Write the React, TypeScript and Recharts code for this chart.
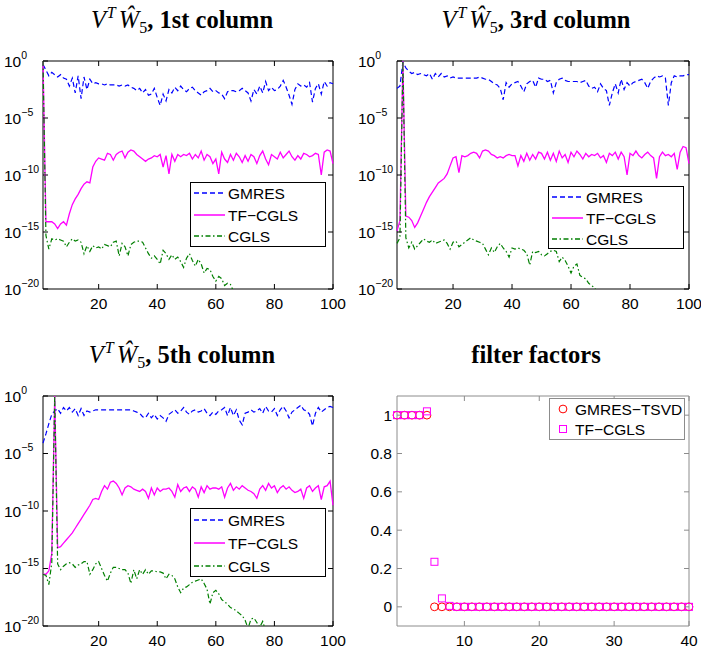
import {
  Legend,
  Line,
  LineChart,
  ReferenceArea,
  Scatter,
  ScatterChart,
  XAxis,
  YAxis,
} from "recharts";

// iteration index on the x axis
const iterations = Array.from({ length: 100 }, (_, i) => i + 1);
const filterIndex = Array.from({ length: 40 }, (_, i) => i + 1);

const logTicks = [1e-20, 1e-15, 1e-10, 1e-5, 1];
const iterTicks = [20, 40, 60, 80, 100];
const filterXTicks = [10, 20, 30, 40];
const filterYTicks = [0, 0.2, 0.4, 0.6, 0.8, 1];

// values, stored as log10 of the magnitude
const gmres1Log10 = [
  -0.3, -0.8, -1.3, -1.0, -1.2, -1.4, -1.2, -1.5, -1.6, -2.2,
  -1.5, -2.8, -1.3, -3.3, -1.4, -2.5, -1.6, -2.0, -1.9, -2.0,
  -2.0, -2.1, -2.0, -2.1, -2.1, -2.1, -2.2, -2.1, -2.2, -2.1,
  -2.3, -2.4, -2.6, -2.4, -2.8, -2.5, -3.0, -2.9, -2.4, -3.2,
  -3.9, -2.9, -3.5, -2.5, -2.8, -2.3, -2.6, -2.2, -2.5, -2.7,
  -2.4, -2.3, -2.6, -2.8, -3.0, -2.7, -2.6, -2.4, -2.7, -2.6,
  -2.8, -2.9, -3.3, -2.7, -2.6, -2.6, -2.7, -2.6, -2.4, -2.6,
  -2.8, -3.5, -2.5, -2.9, -2.2, -2.8, -1.8, -2.6, -2.3, -2.6,
  -2.5, -2.2, -1.7, -2.3, -3.0, -3.8, -2.5, -2.0, -2.2, -2.1,
  -2.3, -1.9, -3.6, -2.4, -2.0, -2.9, -1.8, -2.2, -1.9, -2.0,
];
const tfcgls1Log10 = [
  0, -14.1, -14.1, -14.1, -14.3, -14.7, -14.3, -14.1, -14.4, -13.4,
  -12.6, -12.1, -11.7, -11.2, -10.8, -10.6, -10.7, -9.3, -8.8, -8.5,
  -8.6, -8.7, -8.1, -8.2, -8.7, -8.2, -8.0, -7.9, -8.5, -8.0,
  -7.8, -7.9, -8.2, -8.4, -8.6, -8.8, -8.6, -8.5, -8.3, -8.4,
  -8.2, -9.3, -8.3, -9.9, -8.2, -8.8, -8.2, -8.4, -8.2, -8.3,
  -8.1, -8.6, -8.2, -8.5, -7.9, -8.7, -8.2, -8.4, -9.0, -8.6,
  -9.9, -8.0, -8.6, -8.9, -8.2, -8.7, -8.1, -8.4, -8.9, -8.3,
  -8.8, -8.2, -8.4, -9.0, -8.3, -7.9, -8.6, -9.1, -8.2, -8.4,
  -8.6, -8.0, -8.5, -8.2, -7.9, -8.4, -8.7, -8.3, -8.6, -8.1,
  -8.2, -8.4, -8.3, -8.1, -8.2, -10.0, -8.0, -7.8, -7.9, -9.0,
];
const cgls1Log10 = [
  0, -15.3, -16.5, -15.6, -15.7, -15.6, -15.7, -15.8, -16.3, -15.9,
  -15.6, -15.8, -15.7, -15.9, -16.9, -16.2, -16.7, -16.2, -16.4, -16.3,
  -16.5, -16.1, -16.2, -16.3, -15.9, -15.8, -17.1, -16.0, -16.3, -17.1,
  -16.1, -15.9, -15.8, -15.8, -15.9, -16.4, -16.9, -17.3, -17.1, -17.4,
  -17.8, -16.6, -16.9, -17.4, -17.0, -17.4, -17.2, -17.6, -18.1, -17.3,
  -16.9, -17.5, -18.0, -17.4, -17.8, -18.6, -18.2, -18.3, -18.9, -19.3,
  -18.9, -19.1, -19.7, -19.5, -19.6, -20.2, -20.5, -20.9, -21.5,
];

const gmres3Log10 = [
  -2.4, -2.2, -0.1, -0.6, -0.9, -1.1, -1.0, -1.2, -1.1, -1.2,
  -1.3, -1.1, -1.6, -1.1, -1.4, -1.1, -1.4, -1.3, -1.5, -1.4,
  -1.5, -1.5, -1.5, -1.5, -1.5, -1.5, -1.5, -1.5, -1.4, -1.5,
  -1.6, -1.6, -1.8, -2.0, -2.1, -2.4, -3.4, -1.9, -2.3, -2.0,
  -1.9, -1.8, -2.2, -2.7, -2.0, -1.8, -1.7, -2.3, -1.5, -1.6,
  -1.6, -1.8, -1.7, -2.8, -1.9, -1.6, -1.5, -1.7, -1.8, -1.8,
  -1.8, -1.8, -1.9, -1.8, -1.7, -2.2, -2.4, -2.3, -2.7, -2.0,
  -2.4, -2.6, -3.9, -2.8, -2.0, -2.8, -1.6, -2.5, -1.9, -2.2,
  -1.9, -1.8, -1.7, -1.6, -1.9, -2.4, -1.8, -1.5, -1.3, -1.4,
  -1.3, -1.5, -3.9, -1.9, -1.3, -1.4, -1.3, -1.3, -1.2, -1.2,
];
const tfcgls3Log10 = [
  -14.9, -14.0, 0, -13.6, -13.7, -14.0, -14.6, -14.2, -13.6, -13.0,
  -12.4, -11.9, -11.5, -11.1, -10.7, -10.5, -10.3, -9.9, -9.2, -8.5,
  -8.4, -9.8, -8.3, -8.4, -8.3, -8.1, -8.0, -8.1, -8.5, -7.9,
  -7.8, -7.9, -8.2, -8.3, -8.5, -8.4, -8.5, -8.3, -8.2, -8.3,
  -8.3, -9.2, -8.3, -8.8, -8.1, -8.7, -8.2, -8.6, -8.0, -8.1,
  -8.6, -8.0, -8.7, -8.1, -8.8, -7.9, -8.5, -8.2, -8.9, -8.0,
  -8.4, -7.9, -8.2, -8.6, -8.1, -8.4, -8.2, -8.3, -8.1, -8.5,
  -8.3, -8.9, -8.1, -8.3, -8.0, -8.6, -8.0, -8.4, -10.0, -8.1,
  -8.3, -7.9, -8.3, -8.5, -8.2, -8.0, -8.3, -8.5, -10.3, -8.4,
  -8.0, -8.3, -8.2, -8.4, -8.1, -9.5, -8.0, -7.5, -7.6, -9.0,
];
const cgls3Log10 = [
  -16.0, -15.5, 0, -15.5, -16.4, -15.9, -16.5, -16.2, -15.9, -15.6,
  -15.8, -15.9, -15.7, -16.0, -15.9, -15.8, -15.7, -16.0, -16.5, -15.9,
  -15.8, -16.3, -16.1, -15.9, -15.7, -15.5, -15.7, -15.8, -15.9, -16.0,
  -16.5, -17.0, -16.4, -16.8, -16.3, -16.0, -16.4, -16.7, -17.2, -16.4,
  -16.5, -16.4, -16.5, -16.6, -16.9, -17.9, -16.7, -16.8, -16.7, -17.0,
  -17.1, -16.9, -16.7, -16.6, -16.7, -17.6, -17.2, -17.5, -18.0, -18.6,
  -18.0, -17.8, -18.8, -19.0, -19.1, -19.5, -19.7, -19.9, -20.3, -21.0,
];

const gmres5Log10 = [
  -4.1, -3.3, -2.4, -1.6, -1.3, -1.1, -1.5, -1.0, -1.3, -1.0,
  -1.4, -1.1, -1.7, -1.1, -1.7, -1.3, -1.4, -1.3, -1.2, -1.2,
  -1.2, -1.2, -1.2, -1.2, -1.2, -1.2, -1.2, -1.2, -1.2, -1.2,
  -1.2, -1.3, -1.4, -1.5, -1.8, -1.9, -1.5, -1.9, -1.6, -2.0,
  -1.7, -1.9, -2.2, -1.6, -1.4, -1.2, -1.5, -1.3, -1.0, -1.4,
  -1.6, -1.3, -1.2, -1.4, -1.3, -1.1, -1.5, -1.7, -1.4, -1.6,
  -1.3, -1.2, -1.0, -1.7, -1.0, -1.7, -1.2, -2.1, -2.5, -1.5,
  -1.4, -1.2, -1.4, -1.3, -1.1, -1.5, -0.9, -1.3, -1.4, -1.1,
  -1.7, -1.2, -0.9, -1.3, -1.9, -1.4, -1.2, -1.0, -0.8, -1.2,
  -1.3, -1.6, -2.6, -1.5, -1.0, -1.4, -1.2, -1.0, -0.9, -1.0,
];
const tfcgls5Log10 = [
  -15.5, -15.5, -15.2, -13.7, 0, -13.2, -13.1, -12.8, -12.5, -12.2,
  -11.9, -11.5, -11.1, -10.7, -10.3, -9.9, -9.5, -9.0, -8.9, -9.0,
  -8.3, -7.8, -8.1, -7.5, -7.4, -7.6, -8.0, -8.6, -8.0, -7.8,
  -7.9, -8.1, -8.2, -8.3, -8.1, -8.3, -8.9, -8.0, -8.6, -8.0,
  -8.3, -8.1, -8.1, -8.0, -8.3, -8.8, -7.7, -8.3, -8.0, -7.9,
  -8.3, -7.9, -8.1, -8.8, -7.9, -8.4, -7.8, -8.1, -8.0, -8.0,
  -8.1, -7.9, -8.8, -8.0, -7.6, -8.2, -7.9, -8.1, -7.8, -8.0,
  -8.2, -8.3, -8.5, -8.9, -8.1, -7.8, -8.2, -7.6, -8.0, -7.8,
  -8.4, -8.0, -7.8, -8.1, -7.9, -8.2, -8.4, -8.3, -8.1, -8.9,
  -8.0, -7.8, -8.3, -8.0, -7.8, -9.0, -7.9, -7.8, -7.4, -9.5,
];
const cgls5Log10 = [
  -15.5, -15.6, -16.4, -14.5, 0, -14.6, -15.1, -14.8, -14.6, -14.5,
  -14.6, -14.9, -14.7, -14.6, -14.4, -14.4, -15.5, -15.1, -14.6, -14.4,
  -15.0, -15.6, -16.1, -15.4, -14.9, -14.9, -15.0, -15.1, -15.1, -15.4,
  -16.3, -15.1, -15.9, -15.1, -15.5, -15.1, -15.5, -15.2, -15.2, -15.3,
  -15.3, -15.4, -15.9, -15.5, -15.6, -15.9, -16.6, -17.1, -16.7, -16.6,
  -16.4, -16.2, -16.1, -16.0, -15.9, -16.3, -16.8, -18.1, -17.1, -16.9,
  -17.2, -17.7, -17.9, -18.1, -18.4, -18.5, -18.7, -18.9, -19.1, -19.5,
  -20.2, -19.4, -19.3, -19.7, -20.1, -19.6, -20.4, -21.0,
];

// filter factors, indices 1..40
const tsvdFactors = [
  1, 1, 1, 1, 1, 0, 0, 0, 0, 0,
  0, 0, 0, 0, 0, 0, 0, 0, 0, 0,
  0, 0, 0, 0, 0, 0, 0, 0, 0, 0,
  0, 0, 0, 0, 0, 0, 0, 0, 0, 0,
];
const tfcglsFactors = [
  1, 1, 1, 1, 1.02, 0.235, 0.044, 0.005, 0, 0,
  0, 0, 0, 0, 0, 0, 0, 0, 0, 0,
  0, 0, 0, 0, 0, 0, 0, 0, 0, 0,
  0, 0, 0, 0, 0, 0, 0, 0, 0, 0,
];

const SANS = "'Liberation Sans', Arial, Helvetica, sans-serif";
const SERIF = "'Liberation Serif', 'Times New Roman', serif";
const TICK_FONT = 15.5;
const TITLE_FONT = 24.5;

const lineSeries = [
  { key: "gmres", name: "GMRES", color: "#0000ff", dash: "5 3", width: 1.2 },
  { key: "tf", name: "TF\u2212CGLS", color: "#ff00ff", dash: undefined, width: 1.3 },
  { key: "cgls", name: "CGLS", color: "#007f00", dash: "5 2.5 1.5 2.5", width: 1.2 },
];

type Frame = { left: number; right: number; top: number; bottom: number };
type Box = { x: number; y: number; w: number; h: number };

function toRows(gmres: number[], tf: number[], cgls: number[]) {
  return iterations.map((k, i) => ({
    k,
    gmres: 10 ** gmres[i],
    tf: 10 ** tf[i],
    cgls: cgls[i] === undefined ? null : 10 ** cgls[i],
  }));
}

function LineKey({ box }: { box: Box }) {
  return (
    <svg width={box.w} height={box.h} style={{ display: "block" }}>
      <rect x={0.5} y={0.5} width={box.w - 1} height={box.h - 1} fill="#fff" stroke="#000" />
      {lineSeries.map((s, i) => {
        const y = Math.round((box.h * (2 * i + 1)) / 6);
        return (
          <g key={s.key}>
            <line
              x1={4}
              x2={35}
              y1={y}
              y2={y}
              stroke={s.color}
              strokeWidth={1.5}
              strokeDasharray={s.dash}
            />
            <text x={38} y={y + 5.5} fontFamily={SANS} fontSize={TICK_FONT} fill="#000">
              {s.name}
            </text>
          </g>
        );
      })}
    </svg>
  );
}

function MathTitle({ cx, ord }: { cx: number; ord: string }) {
  return (
    <text x={cx} y={28} textAnchor="middle" fontFamily={SERIF} fontSize={TITLE_FONT} fill="#000">
      <tspan fontStyle="italic">V</tspan>
      <tspan fontStyle="italic" fontSize={16} dy={-10} dx={1}>T</tspan>
      <tspan fontStyle="italic" dy={10} dx={3}>{"\u0174"}</tspan>
      <tspan fontSize={16} dy={5}>5</tspan>
      <tspan fontWeight="bold" dy={-5}>{`, ${ord} column`}</tspan>
    </text>
  );
}

type LogPanelProps = {
  left: number;
  top: number;
  width: number;
  height: number;
  frame: Frame;
  legend: Box;
  titleX: number;
  ord: string;
  rows: ReturnType<typeof toRows>;
};

function LogPanel({ left, top, width, height, frame, legend, titleX, ord, rows }: LogPanelProps) {
  const yTick = (props: any) => {
    const { y, payload } = props;
    const exp = Math.round(Math.log10(payload.value));
    return (
      <g>
        <line x1={frame.left} x2={frame.left + 5} y1={y} y2={y} stroke="#000" />
        <line x1={frame.right - 5} x2={frame.right} y1={y} y2={y} stroke="#000" />
        <text x={frame.left - 39} y={y + 5.5} fontFamily={SANS} fontSize={TICK_FONT} fill="#000">
          10
          <tspan dy={-8} fontSize={10.5}>{exp === 0 ? "0" : `\u2212${Math.abs(exp)}`}</tspan>
        </text>
      </g>
    );
  };
  const xTick = (props: any) => {
    const { x, payload } = props;
    return (
      <g>
        <line x1={x} x2={x} y1={frame.bottom} y2={frame.bottom - 5} stroke="#000" />
        <line x1={x} x2={x} y1={frame.top} y2={frame.top + 5} stroke="#000" />
        <text x={x} y={frame.bottom + 19.5} textAnchor="middle" fontFamily={SANS} fontSize={TICK_FONT} fill="#000">
          {payload.value}
        </text>
      </g>
    );
  };

  return (
    <div style={{ position: "absolute", left, top, width, height }}>
      <LineChart
        width={width}
        height={height}
        data={rows}
        margin={{ top: frame.top, right: width - frame.right, bottom: 0, left: 0 }}
      >
        <XAxis
          dataKey="k"
          type="number"
          domain={[1, 100]}
          ticks={iterTicks}
          height={height - frame.bottom}
          axisLine={false}
          tickLine={false}
          tick={xTick}
          interval={0}
        />
        <YAxis
          type="number"
          scale="log"
          domain={[1e-20, 1]}
          allowDataOverflow
          ticks={logTicks}
          width={frame.left}
          axisLine={false}
          tickLine={false}
          tick={yTick}
          interval={0}
        />
        {lineSeries.map((s) => (
          <Line
            key={s.key}
            dataKey={s.key}
            name={s.name}
            type="linear"
            stroke={s.color}
            strokeWidth={s.width}
            strokeDasharray={s.dash}
            dot={false}
            activeDot={false}
            isAnimationActive={false}
          />
        ))}
        <ReferenceArea x1={1} x2={100} y1={1e-20} y2={1} fill="none" stroke="#000" strokeWidth={1} />
        <Legend
          layout="vertical"
          align="center"
          verticalAlign="middle"
          wrapperStyle={{ left: legend.x, top: legend.y, width: legend.w, height: legend.h }}
          content={() => <LineKey box={legend} />}
        />
      </LineChart>
      <svg
        width={width}
        height={40}
        style={{ position: "absolute", left: 0, top: 0, pointerEvents: "none" }}
      >
        <MathTitle cx={titleX} ord={ord} />
      </svg>
    </div>
  );
}

function FilterPanel() {
  const width = 351;
  const height = 316;
  const frame: Frame = { left: 47, right: 339, top: 61, bottom: 291 };
  const legend: Box = { x: 199, y: 63, w: 136, h: 42 };
  const boxColor = "#8c8c8c";
  const tsvdRows = filterIndex.map((k, i) => ({ k, f: tsvdFactors[i] }));
  const tfRows = filterIndex.map((k, i) => ({ k, f: tfcglsFactors[i] }));

  const yTick = (props: any) => {
    const { y, payload } = props;
    return (
      <g>
        <line x1={frame.left} x2={frame.left + 5} y1={y} y2={y} stroke={boxColor} />
        <line x1={frame.right - 5} x2={frame.right} y1={y} y2={y} stroke={boxColor} />
        <text x={frame.left - 5} y={y + 5.5} textAnchor="end" fontFamily={SANS} fontSize={TICK_FONT} fill="#000">
          {payload.value}
        </text>
      </g>
    );
  };
  const xTick = (props: any) => {
    const { x, payload } = props;
    return (
      <g>
        <line x1={x} x2={x} y1={frame.bottom} y2={frame.bottom - 5} stroke={boxColor} />
        <line x1={x} x2={x} y1={frame.top} y2={frame.top + 5} stroke={boxColor} />
        <text x={x} y={frame.bottom + 19.5} textAnchor="middle" fontFamily={SANS} fontSize={TICK_FONT} fill="#000">
          {payload.value}
        </text>
      </g>
    );
  };

  return (
    <div style={{ position: "absolute", left: 350, top: 335, width, height }}>
      <ScatterChart
        width={width}
        height={height}
        margin={{ top: frame.top, right: width - frame.right, bottom: 0, left: 0 }}
      >
        <XAxis
          dataKey="k"
          type="number"
          domain={[1, 40]}
          ticks={filterXTicks}
          height={height - frame.bottom}
          axisLine={false}
          tickLine={false}
          tick={xTick}
          interval={0}
        />
        <YAxis
          dataKey="f"
          type="number"
          domain={[-0.1, 1.1]}
          ticks={filterYTicks}
          width={frame.left}
          axisLine={false}
          tickLine={false}
          tick={yTick}
          interval={0}
        />
        <ReferenceArea x1={1} x2={40} y1={-0.1} y2={1.1} fill="none" stroke={boxColor} strokeWidth={1} />
        <Scatter
          name={"GMRES\u2212TSVD"}
          data={tsvdRows}
          isAnimationActive={false}
          shape={(p: any) => <circle cx={p.cx} cy={p.cy} r={3.9} fill="none" stroke="#ff0000" strokeWidth={1} />}
        />
        <Scatter
          name={"TF\u2212CGLS"}
          data={tfRows}
          isAnimationActive={false}
          shape={(p: any) => (
            <rect x={p.cx - 3.5} y={p.cy - 3.5} width={7} height={7} fill="none" stroke="#ff00ff" strokeWidth={1} />
          )}
        />
        <Legend
          layout="vertical"
          align="center"
          verticalAlign="middle"
          wrapperStyle={{ left: legend.x, top: legend.y, width: legend.w, height: legend.h }}
          content={() => (
            <svg width={legend.w} height={legend.h} style={{ display: "block" }}>
              <rect x={0.5} y={0.5} width={legend.w - 1} height={legend.h - 1} fill="#fff" stroke={boxColor} />
              <circle cx={14} cy={11} r={3.9} fill="none" stroke="#ff0000" />
              <text x={26} y={16.5} fontFamily={SANS} fontSize={TICK_FONT} fill="#000">
                {"GMRES\u2212TSVD"}
              </text>
              <rect x={10.5} y={27.5} width={7} height={7} fill="none" stroke="#ff00ff" />
              <text x={26} y={36.5} fontFamily={SANS} fontSize={TICK_FONT} fill="#000">
                {"TF\u2212CGLS"}
              </text>
            </svg>
          )}
        />
      </ScatterChart>
      <svg width={width} height={40} style={{ position: "absolute", left: 0, top: 0, pointerEvents: "none" }}>
        <text x={186} y={28} textAnchor="middle" fontFamily={SERIF} fontSize={TITLE_FONT} fontWeight="bold" fill="#000">
          filter factors
        </text>
      </svg>
    </div>
  );
}

export default function App() {
  return (
    <div style={{ position: "absolute", left: 0, top: 0, width: 701, height: 651, background: "#fff" }}>
      <LogPanel
        left={0}
        top={0}
        width={350}
        height={320}
        frame={{ left: 43, right: 333, top: 61, bottom: 289 }}
        legend={{ x: 190, y: 182, w: 136, h: 65 }}
        titleX={182}
        ord="1st"
        rows={toRows(gmres1Log10, tfcgls1Log10, cgls1Log10)}
      />
      <LogPanel
        left={350}
        top={0}
        width={351}
        height={320}
        frame={{ left: 47, right: 339, top: 61, bottom: 289 }}
        legend={{ x: 198, y: 186, w: 136, h: 63 }}
        titleX={186}
        ord="3rd"
        rows={toRows(gmres3Log10, tfcgls3Log10, cgls3Log10)}
      />
      <LogPanel
        left={0}
        top={335}
        width={350}
        height={316}
        frame={{ left: 43, right: 333, top: 61, bottom: 291 }}
        legend={{ x: 190, y: 173, w: 136, h: 69 }}
        titleX={182}
        ord="5th"
        rows={toRows(gmres5Log10, tfcgls5Log10, cgls5Log10)}
      />
      <FilterPanel />
    </div>
  );
}
